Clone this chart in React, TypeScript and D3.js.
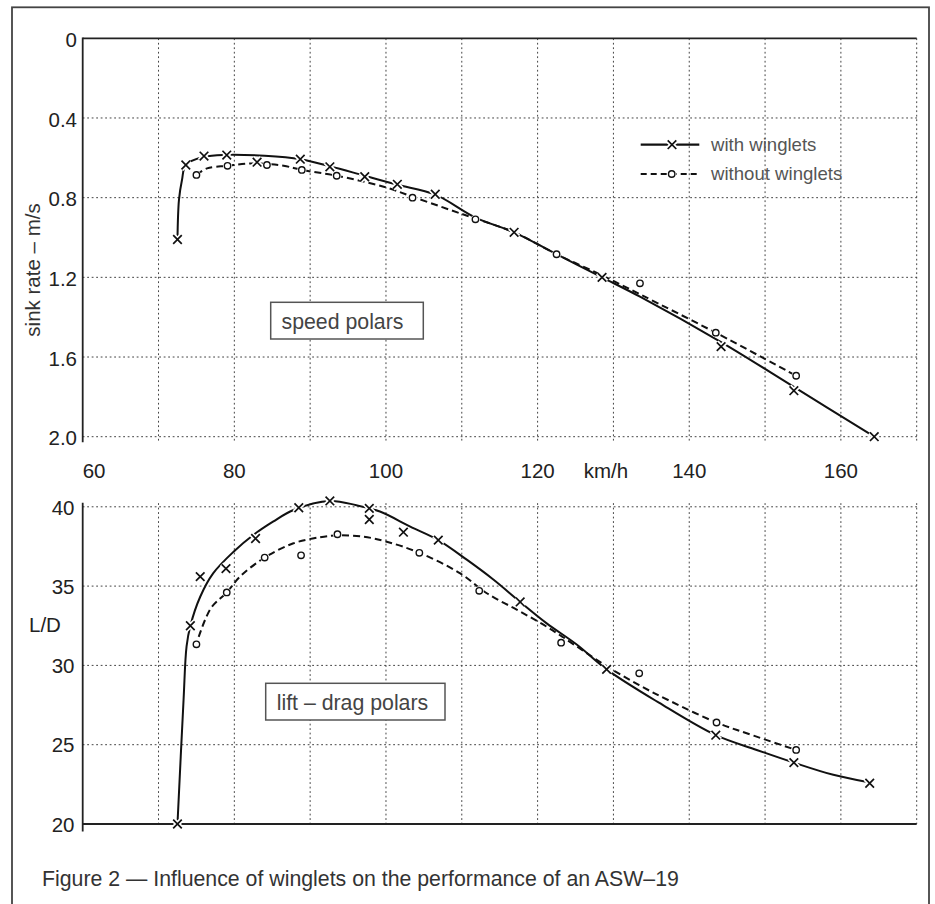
import React from 'react';
import * as d3 from 'd3';

// ---------- tick / grid values ----------
const speedTicks = [60, 80, 100, 120, 140, 160];
const speedGrid = [70, 80, 90, 100, 110, 120, 130, 140, 150, 160, 170];
const sinkTicks = [0, 0.4, 0.8, 1.2, 1.6, 2.0];
const sinkGrid = [0.4, 0.8, 1.2, 1.6, 2.0];
const ldTicks = [20, 25, 30, 35, 40];
const ldGrid = [25, 30, 35, 40];

// ---------- speed polars: measured points ----------
const withSinkV = [72.5, 73.6, 76.0, 79.0, 83.0, 88.7, 92.6, 97.2, 101.5, 106.5, 116.9, 128.5, 144.2, 153.8, 164.4];
const withSinkS = [1.01, 0.636, 0.591, 0.586, 0.622, 0.607, 0.645, 0.695, 0.733, 0.783, 0.974, 1.2, 1.548, 1.769, 2.0];
const withoutSinkV = [75.0, 79.1, 84.3, 88.9, 93.5, 103.5, 111.8, 122.5, 133.5, 143.5, 154.1];
const withoutSinkS = [0.686, 0.64, 0.636, 0.661, 0.69, 0.8, 0.909, 1.084, 1.23, 1.478, 1.694];

// ---------- speed polars: faired curves ----------
const withSinkCurveV = [72.5, 72.7, 73.1, 73.6, 76.0, 79.0, 84.0, 88.7, 92.6, 97.2, 101.5, 106.5, 111.8, 116.9, 122.5, 128.5, 133.5, 144.2, 153.8, 164.4];
const withSinkCurveS = [1.01, 0.81, 0.71, 0.636, 0.595, 0.585, 0.59, 0.607, 0.642, 0.69, 0.735, 0.785, 0.9, 0.974, 1.084, 1.2, 1.297, 1.525, 1.75, 2.0];
const withoutSinkCurveV = [75.0, 76.4, 79.1, 82.5, 86.5, 88.9, 93.5, 99.7, 103.5, 108.5, 111.8, 116.9, 122.5, 128.5, 133.5, 143.5, 154.1];
const withoutSinkCurveS = [0.686, 0.653, 0.64, 0.628, 0.64, 0.661, 0.69, 0.745, 0.795, 0.862, 0.905, 0.974, 1.084, 1.19, 1.285, 1.478, 1.694];

// ---------- lift-drag polars: measured points ----------
const withLDV = [72.5, 74.2, 75.5, 78.9, 82.8, 88.5, 92.6, 97.8, 97.8, 102.3, 106.9, 117.7, 129.1, 143.5, 153.8, 163.8];
const withLD = [20.0, 32.5, 35.6, 36.1, 38.0, 39.94, 40.37, 39.9, 39.2, 38.4, 37.9, 34.0, 29.75, 25.6, 23.87, 22.57];
const withoutLDV = [75.0, 79.0, 84.0, 88.8, 93.6, 104.4, 112.3, 123.1, 133.4, 143.6, 154.1];
const withoutLD = [31.33, 34.6, 36.8, 36.94, 38.27, 37.1, 34.7, 31.43, 29.5, 26.4, 24.67];

// ---------- lift-drag polars: faired curves ----------
const withLDCurveV = [72.5, 73.3, 73.7, 74.2, 75.5, 77.2, 79.9, 82.5, 85.1, 87.8, 92.6, 96.1, 99.2, 103.2, 106.9, 110.7, 114.2, 117.7, 121.2, 125.2, 129.1, 136.0, 143.5, 148.9, 153.8, 159.0, 163.5];
const withLDCurve = [20, 27.8, 31.2, 32.5, 34.33, 35.8, 37.17, 38.22, 39.06, 39.8, 40.37, 40.1, 39.7, 38.75, 37.9, 36.65, 35.4, 34.0, 32.65, 31.3, 29.75, 27.65, 25.6, 24.67, 23.87, 23.1, 22.65];
const withoutLDCurveV = [75.3, 76.9, 79.0, 80.75, 84.0, 87.8, 91.3, 93.6, 97.0, 100.1, 104.4, 109.8, 113.3, 117.3, 121.2, 125.0, 129.1, 133.4, 137.5, 143.6, 148.5, 154.1];
const withoutLDCurve = [31.8, 33.6, 34.6, 35.6, 36.8, 37.7, 38.08, 38.2, 38.12, 37.8, 37.1, 35.8, 34.55, 33.5, 32.44, 31.25, 29.95, 28.75, 27.75, 26.4, 25.57, 24.67];

const legendLabels = ['with winglets', 'without winglets'];
const FONT = '"Liberation Sans", Arial, Helvetica, sans-serif';

const zip = (a: number[], b: number[]) => a.map((v, i) => [v, b[i]] as [number, number]);

function Cross({ cx, cy }: { cx: number; cy: number }) {
  const s = 4.3;
  const d = `M${cx - s},${cy - s}L${cx + s},${cy + s}M${cx - s},${cy + s}L${cx + s},${cy - s}`;
  return (
    <g>
      <path d={d} stroke="#fff" strokeWidth={5} />
      <path d={d} stroke="#111" strokeWidth={1.7} />
    </g>
  );
}

function Ring({ cx, cy }: { cx: number; cy: number }) {
  return (
    <g>
      <circle cx={cx} cy={cy} r={4.6} fill="#fff" />
      <circle cx={cx} cy={cy} r={3.2} fill="#fff" stroke="#111" strokeWidth={1.4} />
    </g>
  );
}

export default function App() {
  const x = d3.scaleLinear().domain([60, 170]).range([82.7, 916.7]);
  const yS = d3.scaleLinear().domain([0, 2]).range([38.3, 436.7]);
  const yL = d3.scaleLinear().domain([20, 40]).range([824, 506.8]);

  const lineS = d3.line<[number, number]>().x((d) => x(d[0])).y((d) => yS(d[1])).curve(d3.curveCatmullRom.alpha(0.5));
  const lineL = d3.line<[number, number]>().x((d) => x(d[0])).y((d) => yL(d[1])).curve(d3.curveCatmullRom.alpha(0.5));

  const gridStroke = '#444';
  const gridDash = '1.8,2.7';

  return (
    <svg width={935} height={904} style={{ position: 'absolute', left: 0, top: 0, background: '#fff' }} fontFamily={FONT}>
      <rect x={0} y={0} width={935} height={904} fill="#fff" />
      {/* outer frame */}
      <rect x={12} y={7.3} width={917} height={920} fill="none" stroke="#444" strokeWidth={1.8} />

      {/* ================= TOP: speed polars ================= */}
      <g>
        {sinkGrid.map((t) => (
          <line key={'hs' + t} x1={x(60)} x2={x(170) + 1.5} y1={yS(t)} y2={yS(t)} stroke={gridStroke} strokeWidth={1} strokeDasharray={gridDash} />
        ))}
        {speedGrid.map((t) => (
          <line key={'vs' + t} x1={x(t)} x2={x(t)} y1={yS(0)} y2={yS(2) + 5} stroke={gridStroke} strokeWidth={1} strokeDasharray={gridDash} />
        ))}
        <line x1={x(60)} x2={x(170)} y1={yS(0)} y2={yS(0)} stroke="#222" strokeWidth={1.8} />
        <line x1={x(60)} x2={x(60)} y1={yS(0) - 0.9} y2={yS(2) + 5.5} stroke="#222" strokeWidth={1.8} />

        {sinkTicks.map((t) => (
          <text key={'ts' + t} x={77} y={yS(t)} dy="0.42em" textAnchor="end" fontSize={20.5} fill="#222">
            {t === 0 ? '0' : t.toFixed(1)}
          </text>
        ))}
        {speedTicks.map((t) => (
          <text key={'tx' + t} x={t === 60 ? x(t) : x(t)} y={478.3} textAnchor={t === 60 ? 'start' : 'middle'} fontSize={20.5} fill="#222">
            {t}
          </text>
        ))}
        <text x={606} y={478.3} textAnchor="middle" fontSize={20.5} fill="#222">km/h</text>
        <text transform="translate(40,270) rotate(-90)" textAnchor="middle" fontSize={20.5} fill="#333">sink rate – m/s</text>

        <path d={lineS(zip(withSinkCurveV, withSinkCurveS)) || ''} fill="none" stroke="#111" strokeWidth={2} />
        <path d={lineS(zip(withoutSinkCurveV, withoutSinkCurveS)) || ''} fill="none" stroke="#111" strokeWidth={2} strokeDasharray="7,4" />
        {withoutSinkV.map((v, i) => (
          <Ring key={'ro' + i} cx={x(v)} cy={yS(withoutSinkS[i])} />
        ))}
        {withSinkV.map((v, i) => (
          <Cross key={'rx' + i} cx={x(v)} cy={yS(withSinkS[i])} />
        ))}

        {/* legend */}
        <g>
          <line x1={640.7} x2={699.3} y1={144.7} y2={144.7} stroke="#111" strokeWidth={2.2} />
          <Cross cx={672} cy={144.7} />
          <text x={711} y={151} fontSize={18.6} fill="#555">{legendLabels[0]}</text>
          <line x1={640.7} x2={699.3} y1={174} y2={174} stroke="#111" strokeWidth={2.2} strokeDasharray="6,4" />
          <Ring cx={671.7} cy={174} />
          <text x={711} y={180.3} fontSize={18.6} fill="#555">{legendLabels[1]}</text>
        </g>

        {/* speed polars label */}
        <rect x={270.7} y={302.3} width={152.6} height={36.7} fill="#fff" stroke="#555" strokeWidth={1.5} />
        <text x={281.5} y={329} fontSize={21.3} fill="#444">speed polars</text>
      </g>

      {/* ================= BOTTOM: lift-drag polars ================= */}
      <g>
        {ldGrid.map((t) => (
          <line key={'hl' + t} x1={x(60)} x2={x(170) + 1.5} y1={yL(t)} y2={yL(t)} stroke={gridStroke} strokeWidth={1} strokeDasharray={gridDash} />
        ))}
        {speedGrid.map((t) => (
          <line key={'vl' + t} x1={x(t)} x2={x(t)} y1={yL(40.23)} y2={yL(20)} stroke={gridStroke} strokeWidth={1} strokeDasharray={gridDash} />
        ))}
        <line x1={x(60)} x2={x(170)} y1={yL(20)} y2={yL(20)} stroke="#222" strokeWidth={1.8} />
        <line x1={x(60)} x2={x(60)} y1={yL(40.25)} y2={yL(20) + 7.5} stroke="#222" strokeWidth={1.8} />

        {ldTicks.map((t) => (
          <text key={'tl' + t} x={74.5} y={yL(t)} dy="0.38em" textAnchor="end" fontSize={20.5} fill="#222">
            {t}
          </text>
        ))}
        <text x={29} y={631.5} fontSize={20.5} fill="#222">L/D</text>

        <path d={lineL(zip(withLDCurveV, withLDCurve)) || ''} fill="none" stroke="#111" strokeWidth={2} />
        <path d={lineL(zip(withoutLDCurveV, withoutLDCurve)) || ''} fill="none" stroke="#111" strokeWidth={2} strokeDasharray="7,4" />
        {withoutLDV.map((v, i) => (
          <Ring key={'lo' + i} cx={x(v)} cy={yL(withoutLD[i])} />
        ))}
        {withLDV.map((v, i) => (
          <Cross key={'lx' + i} cx={x(v)} cy={yL(withLD[i])} />
        ))}

        <rect x={265.7} y={683.3} width={179.3} height={36.7} fill="#fff" stroke="#555" strokeWidth={1.5} />
        <text x={276.7} y={710} fontSize={21.3} fill="#444">lift – drag polars</text>
      </g>

      <text x={42} y={886} fontSize={21.3} fill="#333">Figure 2 — Influence of winglets on the performance of an ASW–19</text>
    </svg>
  );
}
